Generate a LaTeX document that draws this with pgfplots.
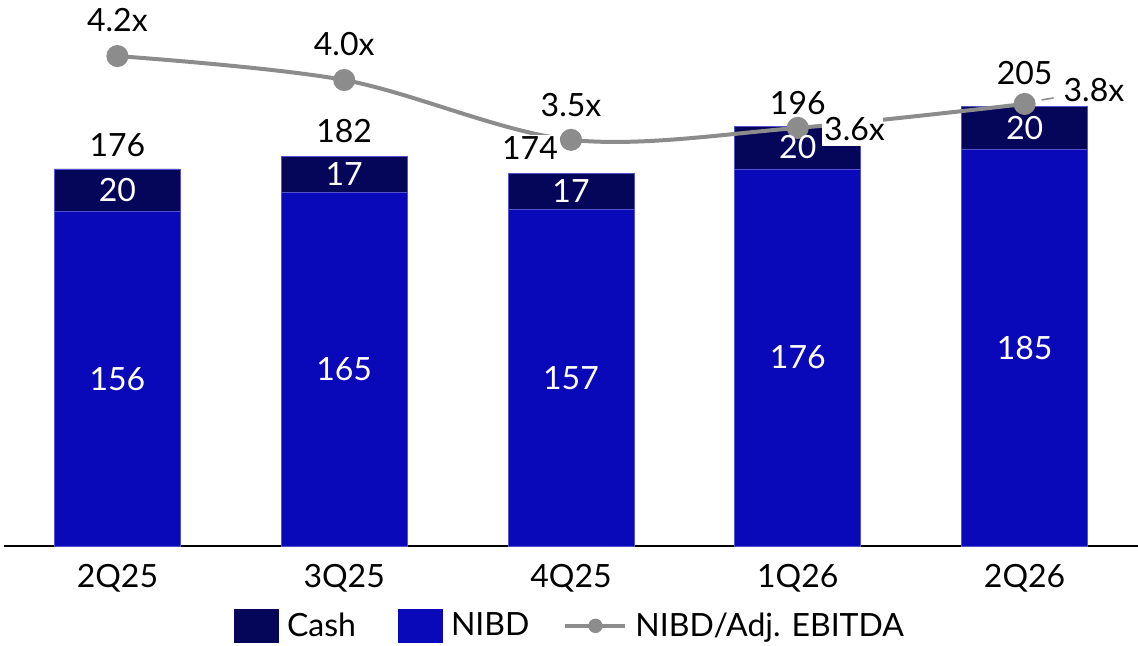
\documentclass[border=0pt]{standalone}
\usepackage{fontspec}
\setmainfont{Lato}
\usepackage{pgfplots}
\pgfplotsset{compat=1.18}

\definecolor{cash}{HTML}{050559}
\definecolor{nibd}{HTML}{0909B9}
\definecolor{ratio}{HTML}{8C8C8C}

\newcommand{\lbl}{\fontsize{16}{16}\selectfont}

\pgfplotsset{
  frame/.style={scale only axis, width=567pt, height=268pt, xmin=-0.5, xmax=4.5, clip=false},
}
\tikzset{v/.style={font=\lbl}, w/.style={font=\lbl, text=white}}

\begin{document}
\begin{tikzpicture}
% debt bars: NIBD at the bottom, cash on top
\begin{axis}[
  frame, ymin=0, ymax=250.2,
  axis x line*=bottom, axis y line=none,
  x axis line style={black, line width=0.8pt},
  xtick={0,...,4}, xticklabels={2Q25,3Q25,4Q25,1Q26,2Q26},
  major tick length=0pt,
  xticklabel style={font=\lbl, anchor=base, yshift=-20.5pt, inner sep=0pt},
  ybar stacked, bar width=63pt,
  legend columns=3,
  legend style={draw=none, font=\lbl, at={(axis description cs:0.50,-0.149)}, anchor=center,
    /tikz/every even column/.append style={column sep=19pt}},
]
\addlegendimage{legend image code/.code={\fill[cash, draw=none] (0pt,-8.5pt) rectangle (22.5pt,8.5pt); \path[draw=none, fill=none] (24.5pt,0pt);}}
\addlegendentry{Cash}
\addlegendimage{legend image code/.code={\fill[nibd, draw=none] (0pt,-8.5pt) rectangle (22.5pt,8.5pt); \path[draw=none, fill=none] (24.5pt,0pt);}}
\addlegendentry{NIBD}
\addlegendimage{legend image code/.code={
  \path[draw=none, fill=none] (0pt,-1pt) (30pt,1pt);
  \draw[overlay, ratio, line width=2pt, fill=none] (-3pt,0pt) -- (27pt,0pt);
  \fill[overlay, ratio, draw=none] (12pt,0pt) circle (3.6pt);}}
\addlegendentry{NIBD/Adj. EBITDA}

\addplot[forget plot, fill=nibd, draw=nibd!70!white, line width=0.4pt]
  coordinates {(0,156) (1,165) (2,157) (3,176) (4,185)};
\addplot[forget plot, fill=cash, draw=nibd!70!white, line width=0.4pt]
  coordinates {(0,20) (1,17) (2,17) (3,20) (4,20)};
\end{axis}

% leverage ratio on its own scale
\begin{axis}[frame, ymin=0.107, ymax=4.585, hide axis]
\addplot[ratio, line width=2pt, smooth, tension=0.55, mark=*, mark size=4.5pt,
  mark options={fill=ratio, draw=ratio}]
  coordinates {(0,4.2) (1,4.0) (2,3.5) (3,3.6) (4,3.8)};
\node[v, yshift=18pt] at (axis cs:0,4.2) {4.2x};
\node[v, yshift=18pt] at (axis cs:1,4.0) {4.0x};
\node[v, yshift=17.5pt] at (axis cs:2,3.5) {3.5x};
\fill[white] ([xshift=12pt,yshift=-9pt]axis cs:3,3.6) rectangle ([xshift=42.5pt,yshift=7.5pt]axis cs:3,3.6);
\node[v, anchor=west, inner sep=0pt, xshift=13pt, yshift=-0.5pt] at (axis cs:3,3.6) {3.6x};
\draw[ratio, line width=0.8pt] ([xshift=8.5pt,yshift=2pt]axis cs:4,3.8) -- ([xshift=14.5pt,yshift=3pt]axis cs:4,3.8);
\node[v, anchor=west, xshift=16pt, yshift=7pt] at (axis cs:4,3.8) {3.8x};
\end{axis}

% values of the bar segments and bar totals
\begin{axis}[frame, ymin=0, ymax=250.2, hide axis]
\node[w] at (axis cs:0,78) {156};
\node[w] at (axis cs:1,82.5) {165};
\node[w] at (axis cs:2,78.5) {157};
\node[w] at (axis cs:3,88) {176};
\node[w] at (axis cs:4,92.5) {185};
\node[w] at (axis cs:0,166) {20};
\node[w] at (axis cs:1,173.5) {17};
\node[w] at (axis cs:2,165.5) {17};
\node[w] at (axis cs:3,186) {20};
\node[w] at (axis cs:4,195) {20};
\node[v, yshift=12pt] at (axis cs:0,176) {176};
\node[v, yshift=12.5pt] at (axis cs:1,182) {182};
\node[v, fill=white, inner sep=1pt, yshift=12.5pt, xshift=-20.5pt] at (axis cs:2,174) {174};
\node[v, yshift=11.5pt] at (axis cs:3,196) {196};
\node[v, yshift=17pt] at (axis cs:4,205) {205};
\end{axis}

\pgfresetboundingbox
\path (-2pt,-50pt) rectangle (567pt,273pt);
\end{tikzpicture}
\end{document}
